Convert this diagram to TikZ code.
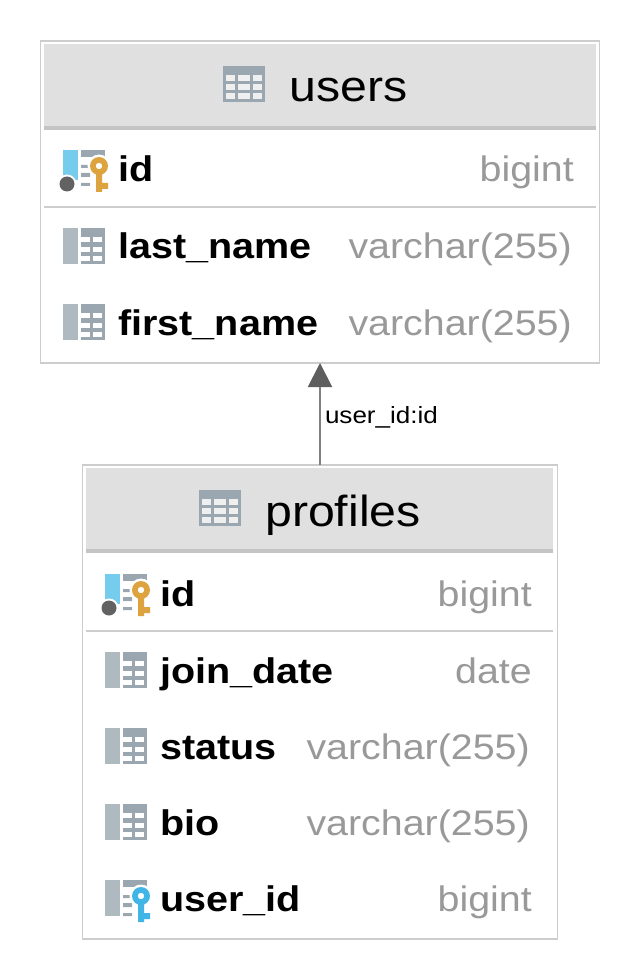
\documentclass[tikz,border=0pt]{standalone}
\usepackage{fontspec}
\setmainfont[FakeStretch=1.11]{Liberation Sans}
\usepackage{tikz}
\usetikzlibrary{positioning, arrows.meta}
\definecolor{framegray}{HTML}{CDCDCD}
\definecolor{headgray}{HTML}{E0E0E0}
\definecolor{headline}{HTML}{C4C4C4}
\definecolor{typegray}{HTML}{999999}
\definecolor{iconblock}{HTML}{9AA7B0}
\definecolor{iconbar}{HTML}{AEB9C0}
\definecolor{pkblue}{HTML}{76CCEC}
\definecolor{pkdot}{HTML}{626262}
\definecolor{keygold}{HTML}{DCA33E}
\definecolor{keyblue}{HTML}{41B6E6}
\tikzstyle{tablebox}=[%
      rectangle, draw=framegray, line width=0.9pt, fill=none, inner sep=0pt, outer sep=0pt
]
\tikzstyle{title}=[%
      anchor=base west, inner sep=0pt, font=\fontsize{32.6}{34}\selectfont, text=black
]
\tikzstyle{colname}=[%
      anchor=base west, inner sep=0pt, font=\fontsize{26.7}{30}\selectfont\bfseries, text=black
]
\tikzstyle{coltype}=[%
      anchor=base east, inner sep=0pt, font=\fontsize{26.6}{30}\selectfont, text=typegray
]
\tikzstyle{fklabel}=[%
      anchor=west, inner sep=0pt, font=\fontsize{17.6}{20}\selectfont, text=black
]
\tikzstyle{rowsep}=[draw=framegray, line width=1.3pt]
\tikzset{
  tableicon/.pic={
    \fill[iconblock] (0,0) rectangle (42,36);
    \foreach \cx/\cw in {3/9,15/12,30/9}
      \foreach \cy in {9,18,27}
        \fill[white!50!headgray] (\cx,\cy) rectangle ++(\cw,6);
  },
  colicon/.pic={
    \fill[iconbar] (0,0) rectangle (15,36);
    \fill[iconblock] (18,0) rectangle (42,36);
    \foreach \cy/\ch in {9/5,19/5,28/5} {
      \fill[white] (18,\cy) rectangle ++(9,\ch);
      \fill[white] (30,\cy) rectangle ++(9,\ch);
    }
  },
  keyshape/.pic={
    \fill[white] (36,16) circle (11.5);
    \fill[white] (30.5,24) rectangle (48,44);
    \fill[pic actions, even odd rule] (36,16) circle (9) (36,16) circle (3.3);
    \fill[pic actions] (33,24) rectangle (39,42) (39,33) rectangle (45,39);
  },
  pkicon/.pic={
    \fill[iconblock] (18,0) rectangle (42,7);
    \fill[iconblock] (18,15) rectangle ++(9,3) (18,23) rectangle ++(9,4) (18,33) rectangle ++(9,3);
    \fill[pkblue] (0,0) rectangle (15,30);
    \fill[white] (4,34) circle (9.5);
    \fill[pkdot] (4,34) circle (7.5);
    \pic[keygold] {keyshape};
  },
  fkicon/.pic={
    \fill[iconbar] (0,0) rectangle (15,36);
    \fill[iconblock] (18,0) rectangle (42,7);
    \fill[iconblock] (18,15) rectangle ++(9,3) (18,23) rectangle ++(9,4) (18,33) rectangle ++(9,3);
    \pic[keyblue] {keyshape};
  }
}

\begin{document}
\begin{tikzpicture}[x=0.75pt, y=-0.75pt]
    \useasboundingbox (0,0) rectangle (640,980);

    % users
    \fill[headgray] (44,44) rectangle (596,126);
    \fill[headline] (44,126) rectangle (596,130);
    \node[tablebox, minimum width=419.25pt, minimum height=241.5pt] (users) at (320,202) {};
    \draw[rowsep] (44,207) -- (596,207);
    \pic at (223,66) {tableicon};
    \node[title] (userstitle) at (289,102) {users};
    \pic at (63,150) {pkicon};
    \node[colname] (usersid)    at (118,182) {id};
    \node[coltype] (usersidt)   at (574,182) {bigint};
    \pic at (63,228) {colicon};
    \node[colname] (userslast)  at (118,259) {last\_name};
    \node[coltype] (userslastt) at (572,259) {varchar(255)};
    \pic at (63,304) {colicon};
    \node[colname] (usersfirst)  at (118,335) {first\_name};
    \node[coltype] (usersfirstt) at (572,335) {varchar(255)};

    % profiles
    \fill[headgray] (86,468) rectangle (553,549);
    \fill[headline] (86,549) rectangle (553,553);
    \node[tablebox, minimum width=356.25pt, minimum height=355.5pt] (profiles) at (320,702) {};
    \draw[rowsep] (86,631) -- (553,631);
    \pic at (199,490) {tableicon};
    \node[title] (profilestitle) at (265,526) {profiles};
    \pic at (105,574) {pkicon};
    \node[colname] (profilesid)   at (160,606) {id};
    \node[coltype] (profilesidt)  at (532,606) {bigint};
    \pic at (105,652) {colicon};
    \node[colname] (joindate)     at (160,683) {join\_date};
    \node[coltype] (joindatet)    at (532,683) {date};
    \pic at (105,728) {colicon};
    \node[colname] (status)       at (160,759) {status};
    \node[coltype] (statust)      at (530,759) {varchar(255)};
    \pic at (105,804) {colicon};
    \node[colname] (bio)          at (160,835) {bio};
    \node[coltype] (biot)         at (530,835) {varchar(255)};
    \pic at (105,880) {fkicon};
    \node[colname] (userid)       at (160,911) {user\_id};
    \node[coltype] (useridt)      at (532,911) {bigint};

    \draw[draw=black!50, line width=1.5pt, -{Triangle[length=18pt,width=18pt,color=black!63]}]
        (profiles.north) -- (users.south)
        node[fklabel, pos=0.5, xshift=3pt, yshift=-2.2pt] (fk) {user\_id:id};
\end{tikzpicture}
\end{document}
